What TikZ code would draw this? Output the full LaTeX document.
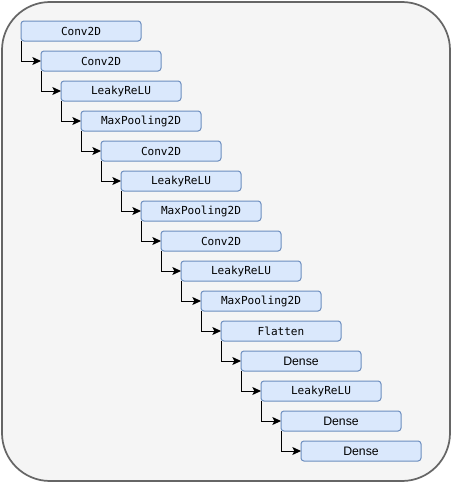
\documentclass[tikz,border=0pt]{standalone}
\usepackage{fontspec}
\setmonofont{DejaVu Sans Mono}
\setsansfont{Liberation Sans}
\usetikzlibrary{arrows.meta}
\definecolor{layerfill}{HTML}{DAE8FC}
\definecolor{layerdraw}{HTML}{6C8EBF}
\definecolor{panelfill}{HTML}{F5F5F5}
\definecolor{paneldraw}{HTML}{666666}
\newcommand{\lyrmono}{\ttfamily\fontsize{8.3}{10}\selectfont}
\newcommand{\lyrsans}{\sffamily\fontsize{9.2}{11}\selectfont}

\begin{document}
\begin{tikzpicture}[x=0.75pt,y=-0.75pt,
    layer/.style={draw=layerdraw,fill=layerfill,line width=0.75pt,rounded corners=2.2pt,
      minimum width=90pt,minimum height=15pt,inner sep=0pt,outer sep=0pt},
    arr/.style={-{Stealth[length=6.5pt,width=6pt,inset=1.5pt]},line width=0.75pt,black}]
  \useasboundingbox (0,0) rectangle (452,483);
  % panel
  \draw[draw=paneldraw,fill=panelfill,line width=1.3pt,rounded corners=36pt] (2,2) rectangle (450,481);
  % layers
  \foreach \txt/\fnt [count=\i from 0] in {Conv2D/\lyrmono,Conv2D/\lyrmono,LeakyReLU/\lyrmono,
      MaxPooling2D/\lyrmono,Conv2D/\lyrmono,LeakyReLU/\lyrmono,MaxPooling2D/\lyrmono,
      Conv2D/\lyrmono,LeakyReLU/\lyrmono,MaxPooling2D/\lyrmono,Flatten/\lyrmono,
      Dense/\lyrsans,LeakyReLU/\lyrmono,Dense/\lyrsans,Dense/\lyrsans}
    \node[layer,font=\fnt] (l\i) at (81+20*\i,31+30*\i) {\txt};
  % connectors
  \foreach \i [evaluate=\i as \j using int(\i+1)] in {0,...,13}
    \draw[arr] (l\i.south west) |- (l\j.west);
\end{tikzpicture}
\end{document}
